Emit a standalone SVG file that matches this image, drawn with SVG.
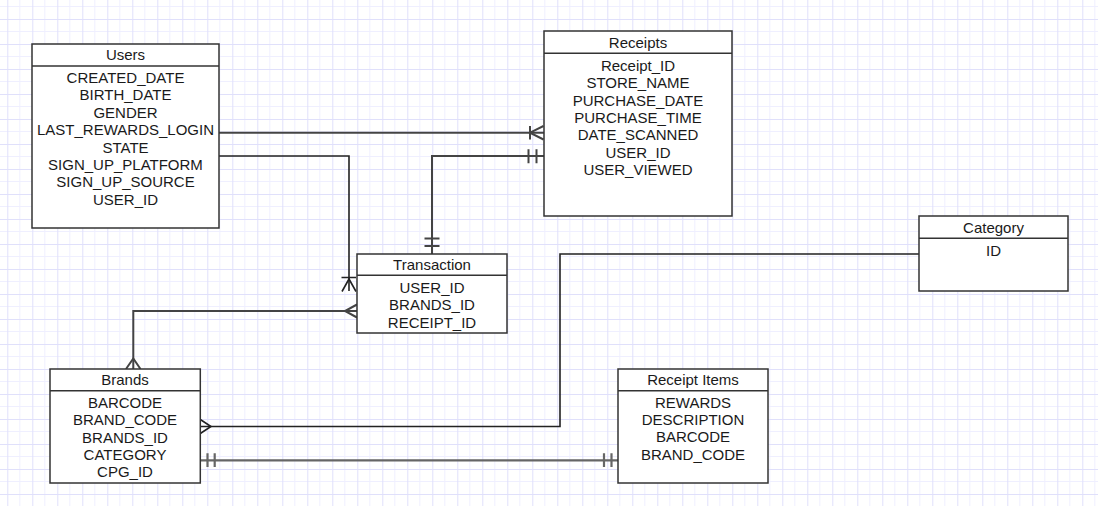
<svg xmlns="http://www.w3.org/2000/svg" width="1098" height="506" viewBox="0 0 1098 506">
<style>
.box{fill:#fff;stroke:#333;stroke-width:1.5}
.hd{stroke:#333;stroke-width:1.5}
.t{font-family:"Liberation Sans",Arial,sans-serif;font-size:15px;fill:#1a1a1a;text-anchor:middle}
.c{fill:none;stroke:#444;stroke-width:2}
.cd{fill:none;stroke:#222;stroke-width:1.6}
.cg{fill:none;stroke:#666;stroke-width:2.2}
</style>
<defs>
<pattern id="grid" patternUnits="userSpaceOnUse" x="7.3" y="19" width="25" height="25">
<rect width="25" height="25" fill="#fff"/>
<path d="M12.5 0V25M0 12.5H25" stroke="#efefff" stroke-width="1"/>
<path d="M0.5 0V25M0 0.5H25" stroke="#e0e0fb" stroke-width="1"/>
</pattern>
</defs>
<rect width="1098" height="506" fill="url(#grid)"/>

<g id="connectors">
<!-- Users -> Receipts (one or many) -->
<g id="c1">
<path class="c" d="M219 132.7H544"/>
<path class="c" d="M530 126V139.5M543.5 126L530 132.7L543.5 139.5"/>
</g>
<!-- Users -> Transaction -->
<g id="c2">
<path class="cd" d="M219 156H349V291"/>
<path class="cd" d="M341.5 277.5H356M342 291.5L349 279L356 291.5"/>
</g>
<!-- Receipts -> Transaction (mandatory one both) -->
<g id="c3">
<path class="c" d="M544 156H432V254"/>
<path class="c" d="M528.5 149.3V163.3M536.5 149.3V163.3M424.5 238.5H439.5M424.5 246H439.5"/>
</g>
<!-- Transaction -> Brands (many both) -->
<g id="c4">
<path class="c" d="M357 311H133.3V369"/>
<path class="c" d="M357 304.5L345 311L357 317.5M126 369L133.3 358.5L140.5 369"/>
</g>
<!-- Brands -> Category -->
<g id="c5">
<path class="cd" d="M200.3 426.5H560V254H919"/>
<path class="cd" d="M200.3 419.5L211 426.5L200.3 433.5"/>
</g>
<!-- Brands -> Receipt Items (mandatory one both) -->
<g id="c6">
<path class="cg" d="M200.3 460.3H618"/>
<path class="cg" d="M207.5 453.3V467M214.7 453.3V467M604 453.3V467M611.5 453.3V467"/>
</g>
</g>

<g id="users">
<rect class="box" x="32" y="44" width="187" height="184"/>
<path class="hd" d="M32 66H219"/>
<text class="t" x="125.5" y="59.5">Users</text>
<text class="t" x="125.5" y="83">CREATED_DATE</text>
<text class="t" x="125.5" y="100.4">BIRTH_DATE</text>
<text class="t" x="125.5" y="117.8">GENDER</text>
<text class="t" x="125.5" y="135.2">LAST_REWARDS_LOGIN</text>
<text class="t" x="125.5" y="152.6">STATE</text>
<text class="t" x="125.5" y="170">SIGN_UP_PLATFORM</text>
<text class="t" x="125.5" y="187.4">SIGN_UP_SOURCE</text>
<text class="t" x="125.5" y="204.8">USER_ID</text>
</g>

<g id="receipts">
<rect class="box" x="544" y="31" width="188" height="185"/>
<path class="hd" d="M544 53.3H732"/>
<text class="t" x="638" y="48.3">Receipts</text>
<text class="t" x="638" y="70.7">Receipt_ID</text>
<text class="t" x="638" y="88.1">STORE_NAME</text>
<text class="t" x="638" y="105.5">PURCHASE_DATE</text>
<text class="t" x="638" y="122.9">PURCHASE_TIME</text>
<text class="t" x="638" y="140.3">DATE_SCANNED</text>
<text class="t" x="638" y="157.7">USER_ID</text>
<text class="t" x="638" y="175.1">USER_VIEWED</text>
</g>

<g id="category">
<rect class="box" x="919" y="216" width="149" height="75"/>
<path class="hd" d="M919 238.3H1068"/>
<text class="t" x="993.5" y="233">Category</text>
<text class="t" x="993.5" y="255.5">ID</text>
</g>

<g id="transaction">
<rect class="box" x="357" y="254" width="150" height="79"/>
<path class="hd" d="M357 275.3H507"/>
<text class="t" x="432" y="270">Transaction</text>
<text class="t" x="432" y="292.7">USER_ID</text>
<text class="t" x="432" y="310.1">BRANDS_ID</text>
<text class="t" x="432" y="327.5">RECEIPT_ID</text>
</g>

<g id="brands">
<rect class="box" x="50" y="369" width="150.3" height="114"/>
<path class="hd" d="M50 390.7H200.3"/>
<text class="t" x="125" y="385">Brands</text>
<text class="t" x="125" y="408.3">BARCODE</text>
<text class="t" x="125" y="425.4">BRAND_CODE</text>
<text class="t" x="125" y="442.7">BRANDS_ID</text>
<text class="t" x="125" y="460">CATEGORY</text>
<text class="t" x="125" y="477.3">CPG_ID</text>
</g>

<g id="receipt-items">
<rect class="box" x="618" y="369" width="150" height="114"/>
<path class="hd" d="M618 390.7H768"/>
<text class="t" x="693" y="385">Receipt Items</text>
<text class="t" x="693" y="407.7">REWARDS</text>
<text class="t" x="693" y="425">DESCRIPTION</text>
<text class="t" x="693" y="442.4">BARCODE</text>
<text class="t" x="693" y="459.7">BRAND_CODE</text>
</g>
</svg>
